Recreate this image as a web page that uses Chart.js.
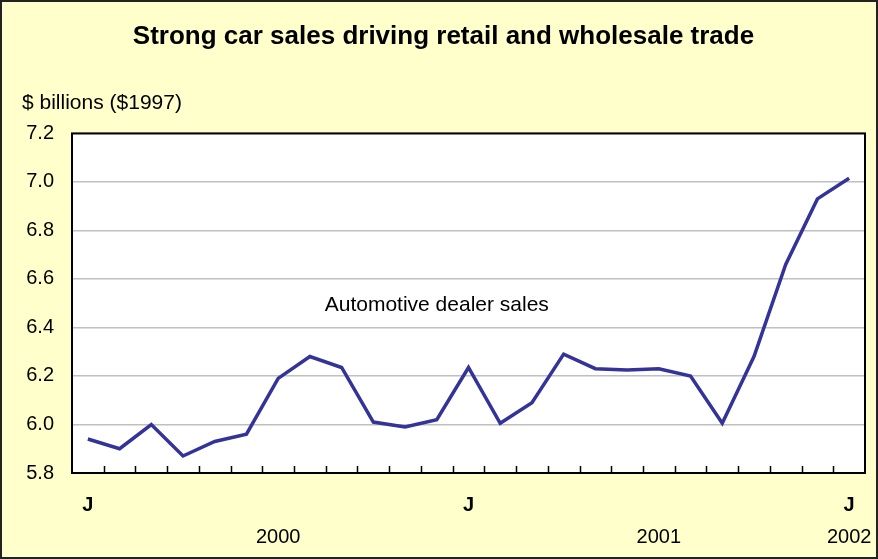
<!DOCTYPE html>
<html>
<head>
<meta charset="utf-8">
<script src="https://cdn.jsdelivr.net/npm/chart.js@4/dist/chart.umd.min.js"></script>
<style>
  html, body { margin: 0; padding: 0; background: #FFFFCC; }
  #wrap { width: 878px; height: 559px; }
</style>
</head>
<body>
<div id="wrap"><canvas id="chart" width="878" height="559"></canvas></div>
<script>
// Monthly points, Jan 2000 .. Jan 2002
const months = ['J','F','M','A','M','J','J','A','S','O','N','D',
                'J','F','M','A','M','J','J','A','S','O','N','D','J'];
const monthLabels = ['J','','','','','','','','','','','',
                     'J','','','','','','','','','','','','J'];
const yearLabels = ['','','','','','','2000','','','','','',
                    '','','','','','','2001','','','','','','2002'];
const dealerSales = [5.94, 5.90, 6.00, 5.87, 5.93, 5.96, 6.19, 6.28, 6.235, 6.01, 5.99, 6.02,
                     6.235, 6.005, 6.09, 6.29, 6.23, 6.225, 6.23, 6.20, 6.005, 6.28, 6.66, 6.93, 7.015];
const yTicks = [5.8, 6.0, 6.2, 6.4, 6.6, 6.8, 7.0, 7.2];

const FONT = 'Arial, "Liberation Sans", sans-serif';

// background, frame, plot border, inner tick marks, year row and the series note
const decor = {
  id: 'decor',
  beforeDraw(chart) {
    const c = chart.ctx;
    const a = chart.chartArea;
    c.save();
    c.fillStyle = '#FFFFCC';
    c.fillRect(0, 0, chart.width, chart.height);
    c.strokeStyle = '#222';
    c.lineWidth = 2;
    c.strokeRect(1, 1, chart.width - 2, chart.height - 2);
    c.fillStyle = '#FFFFFF';
    c.fillRect(a.left, a.top, a.right - a.left, a.bottom - a.top);
    c.restore();
  },
  afterDraw(chart) {
    const c = chart.ctx;
    const a = chart.chartArea;
    const x = chart.scales.x;
    const y = chart.scales.y;
    c.save();
    c.strokeStyle = '#000';
    c.lineWidth = 2;
    c.strokeRect(a.left, a.top, a.right - a.left, a.bottom - a.top);
    c.beginPath();
    for (let i = 1; i < months.length; i++) {
      const px = Math.round((x.getPixelForValue(i - 1) + x.getPixelForValue(i)) / 2) + 0.5;
      c.moveTo(px, a.bottom);
      c.lineTo(px, a.bottom - 7);
    }
    c.lineWidth = 1.5;
    c.stroke();
    c.fillStyle = '#000';
    c.textAlign = 'center';
    c.textBaseline = 'middle';
    c.font = '20px ' + FONT;
    yearLabels.forEach((lab, i) => {
      if (lab) c.fillText(lab, x.getPixelForValue(i), a.bottom + 64);
    });
    c.font = '21px ' + FONT;
    c.fillText('Automotive dealer sales', x.getPixelForValue(11), y.getPixelForValue(6.49));
    c.restore();
  }
};

new Chart(document.getElementById('chart'), {
  type: 'line',
  data: {
    labels: months,
    datasets: [{
      label: 'Automotive dealer sales',
      data: dealerSales,
      borderColor: '#333399',
      borderWidth: 3.5,
      pointRadius: 0,
      tension: 0,
      yAxisID: 'y'
    }]
  },
  options: {
    responsive: false,
    animation: false,
    layout: { padding: { left: 22, right: 13, top: 0, bottom: 42 } },
    plugins: {
      legend: { display: false },
      tooltip: { enabled: false },
      title: {
        display: true,
        text: 'Strong car sales driving retail and wholesale trade',
        color: '#000',
        font: { family: FONT, size: 26, weight: 'bold' },
        padding: { top: 21, bottom: 38 }
      },
      subtitle: {
        display: true,
        text: '$ billions ($1997)',
        align: 'start',
        color: '#000',
        font: { family: FONT, size: 21 },
        padding: { top: 0, bottom: 18 }
      }
    },
    scales: {
      x: {
        type: 'category',
        offset: true,
        grid: { display: false, drawTicks: false },
        border: { display: false },
        ticks: {
          autoSkip: false,
          maxRotation: 0,
          padding: 20,
          color: '#000',
          font: { family: FONT, size: 20, weight: 'bold' },
          callback: (v, i) => monthLabels[i]
        },
        afterFit: s => { s.height = 44; }
      },
      y: {
        min: 5.8,
        max: 7.2,
        border: { display: false },
        afterBuildTicks: s => { s.ticks = yTicks.map(v => ({ value: v })); },
        grid: { color: '#C0C0C0', lineWidth: 1.5, drawTicks: false },
        ticks: {
          padding: 18,
          color: '#000',
          font: { family: FONT, size: 20 },
          callback: v => v.toFixed(1)
        },
        afterFit: s => { s.width = 50; }
      }
    }
  },
  plugins: [decor]
});
</script>
</body>
</html>
